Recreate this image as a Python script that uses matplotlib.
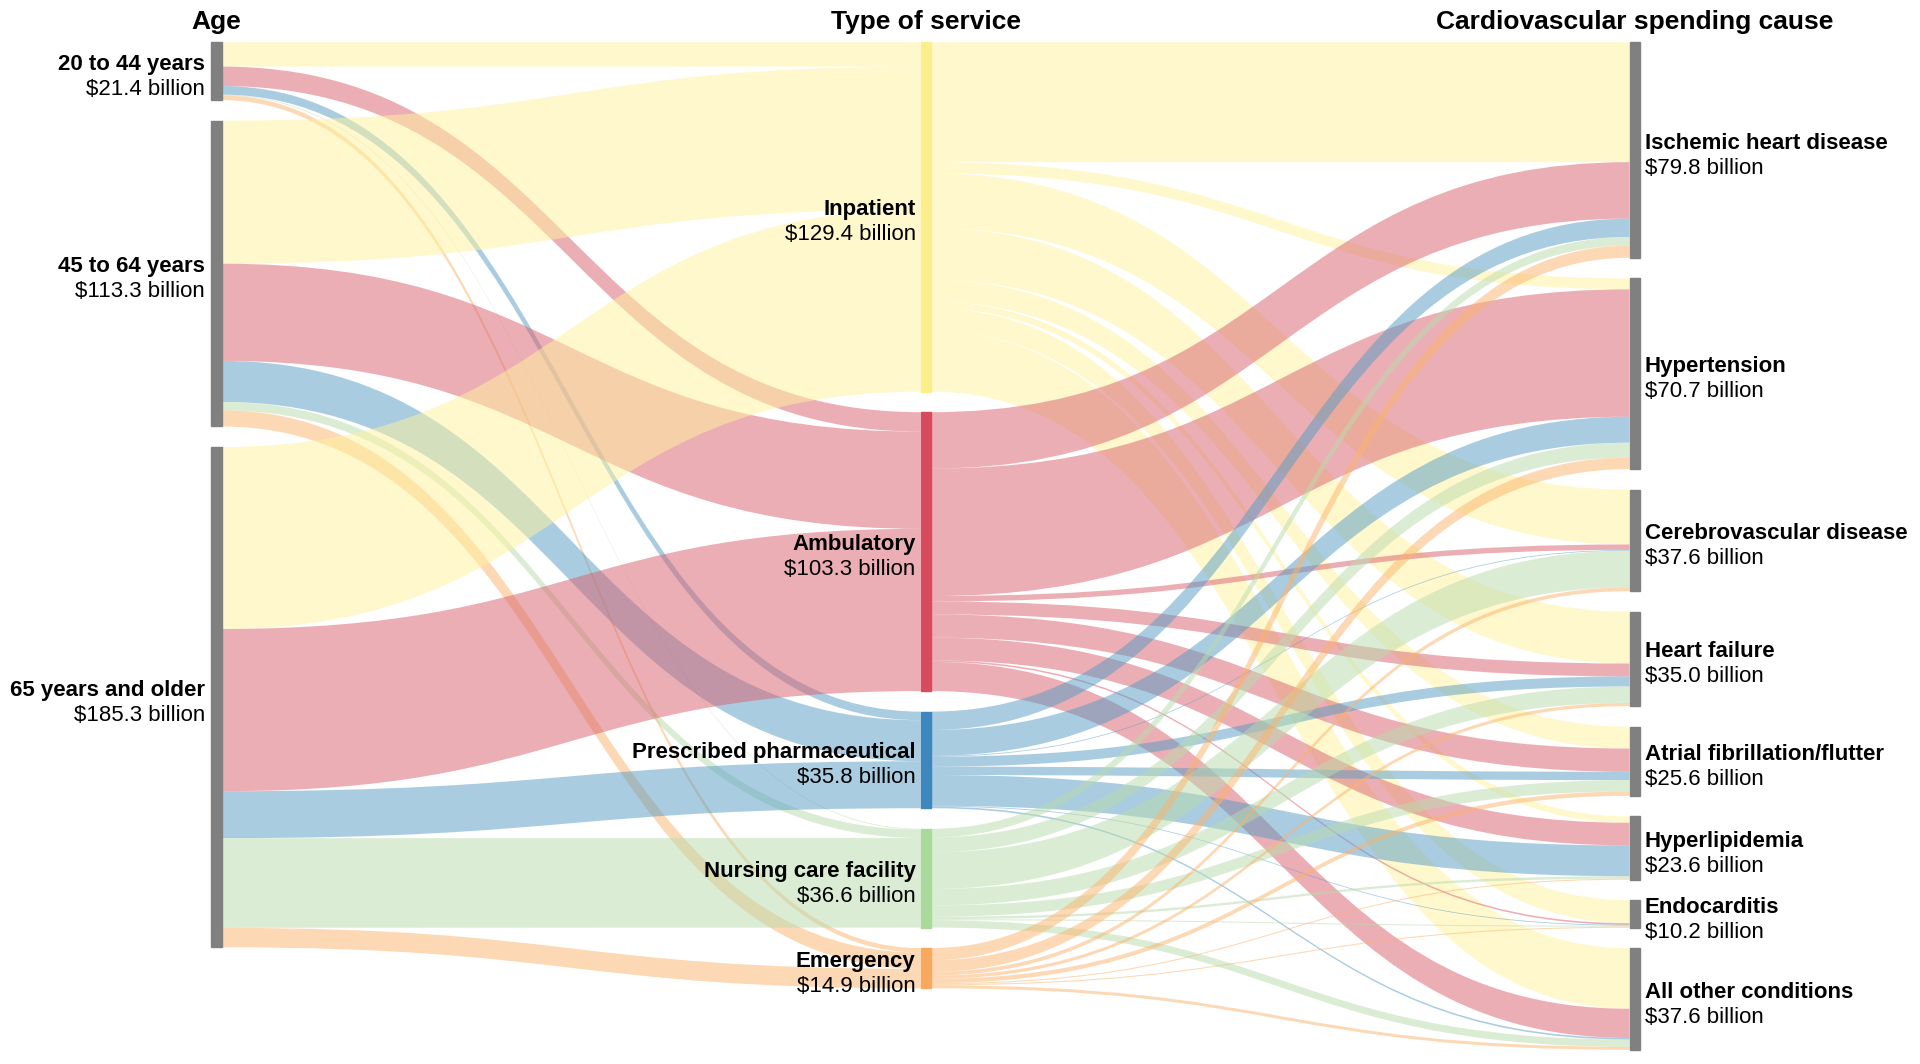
import matplotlib
matplotlib.use("Agg")
import matplotlib.pyplot as plt
from matplotlib.path import Path
from matplotlib.patches import PathPatch, Rectangle

# data (billions of US$)
ages = ["20 to 44 years", "45 to 64 years", "65 years and older"]
age_totals = [21.4, 113.3, 185.3]

services = ["Inpatient", "Ambulatory", "Prescribed pharmaceutical",
            "Nursing care facility", "Emergency"]
service_totals = [129.4, 103.3, 35.8, 36.6, 14.9]

causes = ["Ischemic heart disease", "Hypertension", "Cerebrovascular disease",
          "Heart failure", "Atrial fibrillation/flutter", "Hyperlipidemia",
          "Endocarditis", "All other conditions"]
cause_totals = [79.8, 70.7, 37.6, 35.0, 25.6, 23.6, 10.2, 37.6]

# rows: age group, cols: service
age_to_service = [
    [9.0, 7.2, 3.2, 0.3, 1.7],
    [53.0, 36.0, 15.2, 3.1, 6.0],
    [67.4, 60.1, 17.4, 33.2, 7.2],
]

# rows: service, cols: cause
service_to_cause = [
    [44.4, 4.1, 20.3, 19.2, 8.1, 2.4, 8.5, 22.4],
    [20.9, 47.2, 2.0, 4.8, 8.6, 8.4, 0.6, 10.8],
    [6.8, 9.6, 0.3, 3.7, 3.1, 11.4, 0.3, 0.6],
    [3.2, 5.5, 13.6, 6.1, 4.2, 0.9, 0.4, 2.7],
    [4.5, 4.3, 1.4, 1.2, 1.6, 0.4, 0.4, 1.1],
]

service_colors = ["#FBEF8C", "#D84B5C", "#3E86C0", "#A9DA9B", "#F9A95E"]
link_colors = ["#FFF39D", "#D95F6D", "#559BC5", "#B9DBAD", "#FBB36B"]
gray = "#808080"

# layout (pixels)
W, H = 1920, 1064
K = 2.70          # px per billion
GAP = 20.5
TOP = 42.3
NODE_W = 10.5
col_x = [211, 920.7, 1629.5]


def stack(values):
    pos = []
    y = TOP
    for v in values:
        pos.append([y, y + v * K])
        y += v * K + GAP
    return pos


left_vals = [sum(r) for r in age_to_service]
mid_vals = [sum(r) for r in service_to_cause]
right_vals = [sum(service_to_cause[s][c] for s in range(len(services)))
              for c in range(len(causes))]

left_nodes = stack(left_vals)
mid_nodes = stack(mid_vals)
right_nodes = stack(right_vals)

fig = plt.figure(figsize=(W / 100, H / 100), dpi=100)
ax = fig.add_axes([0, 0, 1, 1])
ax.set_xlim(0, W)
ax.set_ylim(H, 0)
ax.axis("off")


def band(x0, y0a, y0b, x1, y1a, y1b, color):
    xm = (x0 + x1) / 2
    verts = [(x0, y0a), (xm, y0a), (xm, y1a), (x1, y1a),
             (x1, y1b), (xm, y1b), (xm, y0b), (x0, y0b), (x0, y0a)]
    codes = [Path.MOVETO, Path.CURVE4, Path.CURVE4, Path.CURVE4,
             Path.LINETO, Path.CURVE4, Path.CURVE4, Path.CURVE4, Path.CLOSEPOLY]
    ax.add_patch(PathPatch(Path(verts, codes), facecolor=color, edgecolor="none",
                           alpha=0.5, zorder=1))


def draw_links(matrix, src_nodes, dst_nodes, x0, x1, color_of):
    out_y = [n[0] for n in src_nodes]
    links = []
    for i, row in enumerate(matrix):
        for j, v in enumerate(row):
            h = v * K
            links.append((i, j, out_y[i], h))
            out_y[i] += h
    # incoming side stacked by source order
    in_pos = {}
    for j in range(len(dst_nodes)):
        y = dst_nodes[j][0]
        for i in range(len(matrix)):
            in_pos[(i, j)] = y
            y += matrix[i][j] * K
    for i, j, ys, h in links:
        yt = in_pos[(i, j)]
        band(x0, ys, ys + h, x1, yt, yt + h, color_of(i, j))


draw_links(age_to_service, left_nodes, mid_nodes,
           col_x[0] + NODE_W, col_x[1], lambda i, j: link_colors[j])
draw_links(service_to_cause, mid_nodes, right_nodes,
           col_x[1] + NODE_W, col_x[2], lambda i, j: link_colors[i])

# nodes
for (a, b) in left_nodes:
    ax.add_patch(Rectangle((col_x[0], a), NODE_W, b - a, color=gray, zorder=3))
for k, (a, b) in enumerate(mid_nodes):
    ax.add_patch(Rectangle((col_x[1], a), NODE_W, b - a, color=service_colors[k], zorder=3))
for (a, b) in right_nodes:
    ax.add_patch(Rectangle((col_x[2], a), NODE_W, b - a, color=gray, zorder=3))

plt.rcParams["font.family"] = ["Liberation Sans", "DejaVu Sans"]
FS = 16


def label(x, node, name, total, ha):
    c = (node[0] + node[1]) / 2
    ax.text(x, c - 1.5, name, ha=ha, va="baseline", fontsize=FS,
            fontweight="bold", color="black", zorder=4)
    ax.text(x, c + 23.5, "$%.1f billion" % total, ha=ha, va="baseline",
            fontsize=FS, color="black", zorder=4)


for n, name, t in zip(left_nodes, ages, age_totals):
    label(col_x[0] - 6, n, name, t, "right")
for n, name, t in zip(mid_nodes, services, service_totals):
    label(col_x[1] - 5, n, name, t, "right")
for n, name, t in zip(right_nodes, causes, cause_totals):
    label(col_x[2] + NODE_W + 5, n, name, t, "left")

headers = ["Age", "Type of service", "Cardiovascular spending cause"]
for x, h in zip(col_x, headers):
    ax.text(x + NODE_W / 2, 29, h, ha="center", va="baseline",
            fontsize=19, fontweight="bold", color="black")

fig.savefig("out.png", dpi=100, facecolor="white")
